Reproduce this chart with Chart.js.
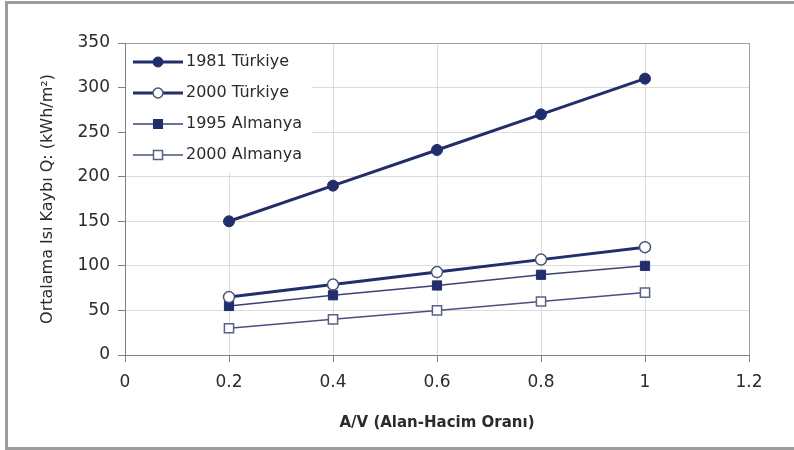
<!DOCTYPE html>
<html>
<head>
<meta charset="utf-8">
<script src="https://cdn.jsdelivr.net/npm/chart.js@4"></script>
<style>
    html, body { margin: 0; padding: 0; background: #fff; overflow: hidden; }
    #frame {
        position: absolute; left: 5px; top: 1px; width: 820px; height: 443px;
        border: 3px solid #9c9c9c; border-right: none;
    }
    #chart { position: absolute; left: 0; top: 0; }
</style>
</head>
<body>
<div id="frame"></div>
<canvas id="chart" width="794" height="450"></canvas>
<script>
const avRatio = [0.2, 0.4, 0.6, 0.8, 1];
const turkiye1981 = [150, 190, 230, 270, 310];
const turkiye2000 = [65, 79, 93, 107, 121];
const almanya1995 = [55, 67, 78, 90, 100];
const almanya2000 = [30, 40, 50, 60, 70];
const seriesNames = ["1981 Türkiye", "2000 Türkiye", "1995 Almanya", "2000 Almanya"];
const xTicks = [0, 0.2, 0.4, 0.6, 0.8, 1, 1.2];
const xTickLabels = ["0", "0.2", "0.4", "0.6", "0.8", "1", "1.2"];
const yTicks = [0, 50, 100, 150, 200, 250, 300, 350];

const navy = "#222d6c";
const textColor = "#2b2b2b";
const font = "'DejaVu Sans'";

function points(values) {
    return avRatio.map((x, i) => ({ x: x, y: values[i] }));
}

// legend glyph: short line with the marker in the middle, like Excel
function legendGlyph(ds) {
    const c = document.createElement("canvas");
    c.width = 56;
    c.height = 14;
    const g = c.getContext("2d");
    g.strokeStyle = ds.borderColor;
    g.lineWidth = ds.borderWidth;
    g.beginPath();
    g.moveTo(2, 7);
    g.lineTo(52, 7);
    g.stroke();
    g.fillStyle = ds.pointBackgroundColor;
    g.strokeStyle = ds.pointBorderColor;
    g.lineWidth = ds.pointBorderWidth;
    if (ds.pointStyle === "circle") {
        g.beginPath();
        g.arc(27, 7, 5, 0, Math.PI * 2);
        g.fill();
        g.stroke();
    } else {
        g.fillRect(22.5, 2.5, 9, 9);
        g.strokeRect(22.5, 2.5, 9, 9);
    }
    return c;
}

const datasets = [
    {
        label: seriesNames[0], data: points(turkiye1981),
        borderColor: navy, borderWidth: 3,
        pointStyle: "circle", pointRadius: 5.5,
        pointBackgroundColor: navy, pointBorderColor: navy, pointBorderWidth: 1,
    },
    {
        label: seriesNames[1], data: points(turkiye2000),
        borderColor: navy, borderWidth: 3,
        pointStyle: "circle", pointRadius: 5.5,
        pointBackgroundColor: "#ffffff", pointBorderColor: "#4b5277", pointBorderWidth: 1.5,
    },
    {
        label: seriesNames[2], data: points(almanya1995),
        borderColor: "#3a4275", borderWidth: 1.5,
        pointStyle: "rect", pointRadius: 6.5,
        pointBackgroundColor: navy, pointBorderColor: navy, pointBorderWidth: 1,
    },
    {
        label: seriesNames[3], data: points(almanya2000),
        borderColor: "#4a5080", borderWidth: 1.5,
        pointStyle: "rect", pointRadius: 6.5,
        pointBackgroundColor: "#ffffff", pointBorderColor: "#5a6088", pointBorderWidth: 1.5,
    },
];
const glyphs = datasets.map(legendGlyph);

// legend sits inside the plot with a white box behind it
const legendBox = {
    id: "legendBox",
    afterLayout(chart) {
        chart.legend.left = chart.chartArea.left;
        chart.legend.top = chart.chartArea.top - 4;
    },
    beforeDatasetsDraw(chart) {
        const { ctx, chartArea, legend } = chart;
        const pad = legend.options.labels.padding;
        const size = legend.options.labels.font.size;
        const n = legend.legendItems.length;
        const bottom = legend.top + pad + n * (size + pad) - pad + 10;
        ctx.save();
        ctx.fillStyle = "#ffffff";
        ctx.fillRect(chartArea.left + 1.5, chartArea.top + 1.5, legend.width - 1.5, bottom - chartArea.top - 1.5);
        ctx.restore();
        legend.draw();
    },
};

new Chart(document.getElementById("chart"), {
    type: "line",
    data: { datasets: datasets },
    plugins: [legendBox],
    options: {
        responsive: false,
        animation: false,
        layout: { padding: { top: 43, right: 45, left: 0, bottom: 0 } },
        plugins: {
            tooltip: { enabled: false },
            legend: {
                position: "chartArea",
                align: "start",
                labels: {
                    usePointStyle: true,
                    pointStyleWidth: 38,
                    padding: 15,
                    color: textColor,
                    font: { family: font, size: 16 },
                    generateLabels: (chart) =>
                        Chart.defaults.plugins.legend.labels.generateLabels(chart)
                            .map((item, i) => ({ ...item, pointStyle: glyphs[i] })),
                },
            },
        },
        scales: {
            x: {
                type: "linear",
                min: 0,
                max: 1.2,
                afterBuildTicks: (scale) => { scale.ticks = xTicks.map((v) => ({ value: v })); },
                afterFit: (scale) => { scale.height = 95; },
                ticks: {
                    color: textColor,
                    font: { family: font, size: 17 },
                    padding: 10,
                    maxRotation: 0,
                    callback: (value, i) => xTickLabels[i],
                },
                grid: {
                    color: (c) => (c.tick && c.tick.value === 1.2 ? "#a0a0a0" : "#dcdcdc"),
                    tickColor: "#808080",
                    tickLength: 7,
                },
                border: { color: "#808080", width: 1 },
                title: {
                    display: true,
                    text: "A/V (Alan-Hacim Oranı)",
                    color: textColor,
                    font: { family: font, size: 15, weight: "bold" },
                    padding: { top: 0, bottom: 18 },
                },
            },
            y: {
                min: 0,
                max: 350,
                afterBuildTicks: (scale) => { scale.ticks = yTicks.map((v) => ({ value: v })); },
                afterFit: (scale) => { scale.width = 125; },
                ticks: { color: textColor, font: { family: font, size: 17 }, padding: 8 },
                grid: {
                    color: (c) => (c.tick && c.tick.value === 350 ? "#a0a0a0" : "#dcdcdc"),
                    tickColor: "#808080",
                    tickLength: 7,
                },
                border: { color: "#808080", width: 1 },
                title: {
                    display: true,
                    text: "Ortalama Isı Kaybı Q: (kWh/m²)",
                    color: textColor,
                    font: { family: font, size: 16 },
                    padding: { top: 38, bottom: 0 },
                },
            },
        },
    },
});
</script>
</body>
</html>
